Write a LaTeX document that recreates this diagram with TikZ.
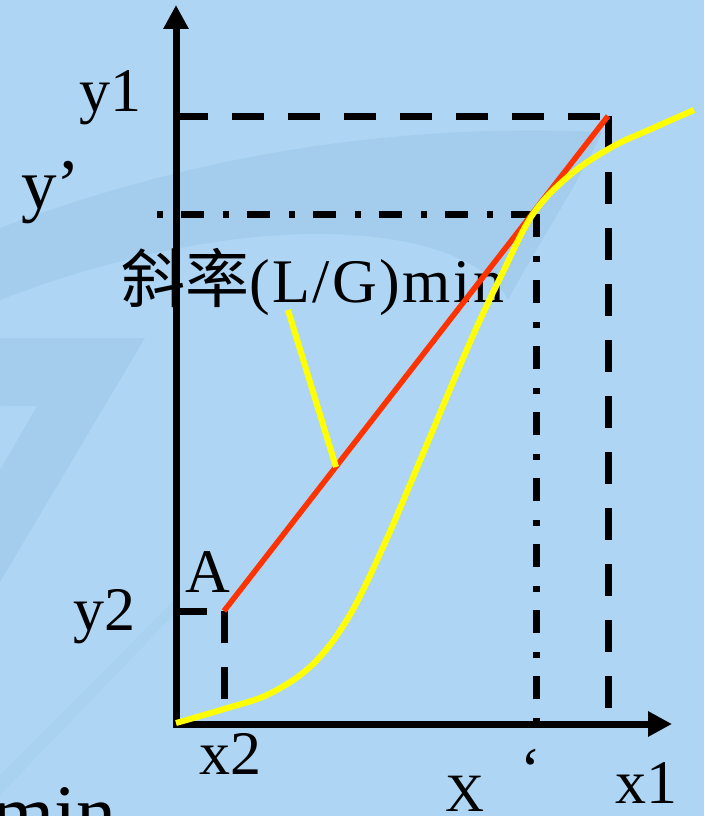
\documentclass[tikz,border=0pt]{standalone}
\usepackage{fontspec}
\setmainfont{Liberation Serif}
\newfontfamily\cjk{Noto Sans CJK SC}
\usepackage{tikz}
\usetikzlibrary{arrows.meta, positioning}
\definecolor{bgblue}{RGB}{174,214,244}
\definecolor{swblue}{RGB}{156,196,229}
\definecolor{opred}{RGB}{255,51,0}
\definecolor{eqyellow}{RGB}{255,255,0}
\tikzset{
  axis/.style={line width=7pt, line join=miter,
    {Triangle[length=24pt, width=24pt]}-{Triangle[length=24pt, width=24pt]}},
  guide/.style={line width=7pt, dash pattern=on 32pt off 24pt},
  guidedot/.style={line width=7pt, dash pattern=on 23pt off 19pt on 6pt off 18pt},
  opline/.style={line width=5.5pt, color=opred},
  eqline/.style={line width=6pt, color=eqyellow},
  lbl/.style={inner sep=0pt, anchor=base, font=\fontsize{62}{62}\selectfont},
  swoosh/.style={fill=swblue, draw=none, opacity=0.5}
}

\begin{document}
\begin{tikzpicture}[x=1pt, y=-1pt]
  \useasboundingbox (0,0) rectangle (704,816);
  \clip (0,0) rectangle (704,816);
  \fill[bgblue] (0,0) rectangle (704,816);

  % faint background swooshes
  \fill[swoosh] (0,228) .. controls (180,160) and (380,122) .. (602,132)
    .. controls (575,190) and (540,240) .. (508,300)
    .. controls (470,225) and (260,200) .. (0,300) -- cycle;
  \fill[swoosh, even odd rule] (0,338) -- (145,338) -- (0,582) -- cycle
    (0,406) -- (37,406) -- (0,470) -- cycle;
  \fill[swoosh, opacity=0.25] (0,775) -- (176,598) -- (176,612) -- (0,795) -- cycle;

  % points
  \coordinate (O) at (176,724);
  \coordinate (ytip) at (176,5);
  \coordinate (xtip) at (672,724);
  \coordinate (y1) at (176,116);
  \coordinate (B) at (608,116);
  \coordinate (yp) at (157,214);
  \coordinate (P) at (536,214);
  \coordinate (y2) at (176,611);
  \coordinate (y2end) at (207,611);
  \coordinate (A) at (224,611);
  \coordinate (ptr) at (288,310);
  \coordinate (ptrend) at (336,467);

  % labels
  \node[lbl] (y1lbl) at (110,111) {y1};
  \node[lbl, font=\fontsize{71}{71}\selectfont, anchor=base west] (yplbl) at (21,208) {y’};
  \node[lbl, anchor=base west] (slope) at (121,302)
    {{\cjk\fontsize{64}{64}\selectfont 斜率}\addfontfeature{LetterSpace=4}(L/G)min};
  \node[lbl] (Albl) at (208,592) {A};
  \node[lbl] (y2lbl) at (104,630) {y2};
  \node[lbl] (x2lbl) at (230,774) {x2};
  \node[lbl] (quote) at (531,790) {‘};
  \node[lbl, font=\fontsize{54}{54}\selectfont] (Xlbl) at (465,811) {X};
  \node[lbl] (x1lbl) at (646,803) {x1};
  \node[lbl, font=\fontsize{80}{80}\selectfont, anchor=base east] (minlbl) at (117,840) {min};

  % guides
  \draw[guide] (y1) -- (B);
  \draw[guide] (B) -- (B |- O);
  \draw[guidedot, dash phase=42pt] (yp) -- (P);
  \draw[guidedot] (P) -- (P |- O);
  \draw[line width=7pt] (y2) -- (y2end);
  \draw[guide] (A) -- (A |- O);

  % axes
  \draw[axis] (ytip) -- (O) -- (xtip);

  % operating line and equilibrium curve
  \draw[opline] (A) -- (B);
  \draw[eqline] plot[smooth, tension=0.6] coordinates {(176,723) (224,709) (269,694)
    (312,665) (348,618) (384,545) (427,444) (471,340) (503,272) (533,214)
    (570,175) (612,147) (651,129) (694,110)};
  \draw[eqline] (ptr) -- (ptrend);
\end{tikzpicture}
\end{document}
